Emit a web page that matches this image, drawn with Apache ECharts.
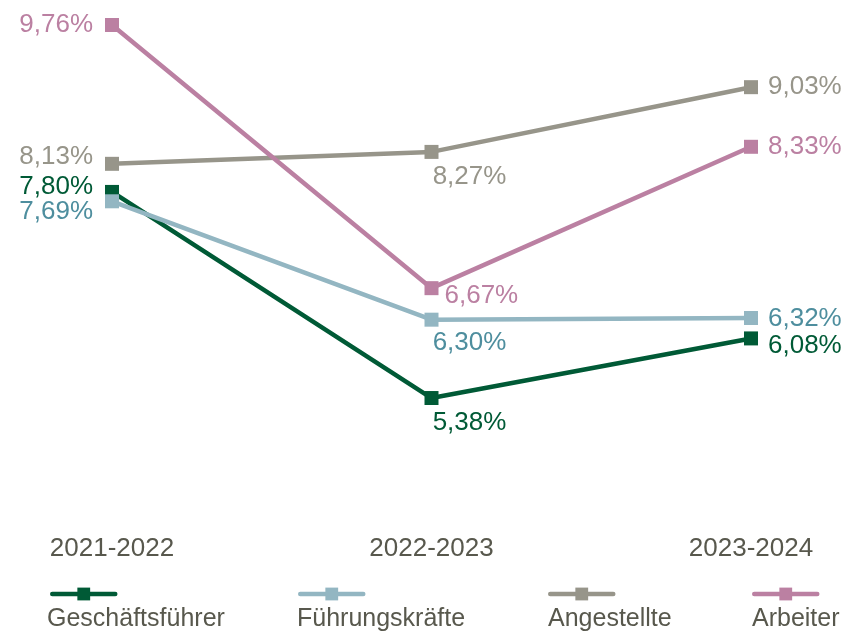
<!DOCTYPE html>
<html>
<head>
<meta charset="utf-8">
<script src="https://cdn.jsdelivr.net/npm/echarts@6/dist/echarts.min.js"></script>
<style>html,body{margin:0;padding:0;background:#fff}#c{width:847px;height:632px}</style>
</head>
<body>
<div id="c"></div>
<script>
const categories = ['2021-2022', '2022-2023', '2023-2024'];
const seriesNames = ['Geschäftsführer', 'Führungskräfte', 'Angestellte', 'Arbeiter'];
const geschaeftsfuehrer = [7.80, 5.38, 6.08];
const fuehrungskraefte = [7.69, 6.30, 6.32];
const angestellte = [8.13, 8.27, 9.03];
const arbeiter = [9.76, 6.67, 8.33];

const lineColors = ['#005a36', '#93b6c2', '#97958a', '#bb80a2'];
const labelColors = ['#005a36', '#4e8e9e', '#97958a', '#bb80a2'];
const textColor = '#58584d';
const FONT = '"Liberation Sans", Arial, sans-serif';

// label placement per point: [position, offsetX, offsetY, distance]
const labelPlacement = [
  [['left', 0, -5, 12], ['bottom', 38, 0, 5], ['right', 0, 7, 10]],
  [['left', 0, 11, 12], ['bottom', 38, 0, 3], ['right', 0, 1, 10]],
  [['left', 0, -7, 12], ['bottom', 38, 0, 5], ['right', 0, 0, 10]],
  [['left', 0, 0, 12], ['right', 0, 8, 6], ['right', 0, 0, 10]]
];

const allValues = [geschaeftsfuehrer, fuehrungskraefte, angestellte, arbeiter];

function fmt(v) { return v.toFixed(2).replace('.', ',') + '%'; }

const series = allValues.map((vals, si) => ({
  name: seriesNames[si],
  type: 'line',
  symbol: 'rect',
  symbolSize: 14,
  color: lineColors[si],
  lineStyle: { width: 4.5, color: lineColors[si] },
  itemStyle: { color: lineColors[si] },
  emphasis: { disabled: true },
  z: 2 + si,
  data: vals.map((v, i) => {
    const p = labelPlacement[si][i];
    return {
      value: v,
      label: {
        show: true,
        position: p[0],
        offset: [p[1], p[2]],
        distance: p[3],
        formatter: (d) => fmt(d.value),
        color: labelColors[si],
        fontSize: 26,
        fontFamily: FONT
      }
    };
  })
}));

const iconLefts = [50, 298, 548, 752];
const textLefts = [42, 292, 543, 747];
const legends = [];
seriesNames.forEach((n, i) => {
  legends.push({
    data: [n], left: iconLefts[i], top: 586, padding: 0,
    itemWidth: 63, itemHeight: 16, formatter: () => '',
    lineStyle: { width: 4.5, cap: 'round' },
    textStyle: { fontSize: 1 }, selectedMode: false
  });
  legends.push({
    data: [{ name: n, icon: 'none' }], left: textLefts[i], top: 607, padding: 0,
    itemWidth: 0, itemHeight: 14, selectedMode: false,
    textStyle: { fontSize: 25, color: textColor, fontFamily: FONT }
  });
});

const chart = echarts.init(document.getElementById('c'), null, { renderer: 'canvas' });
chart.setOption({
  animation: false,
  backgroundColor: '#ffffff',
  grid: { left: 112, right: 96, top: 4.56, height: 511 },
  xAxis: {
    type: 'category',
    data: categories,
    boundaryGap: false,
    axisLine: { show: false },
    axisTick: { show: false },
    axisLabel: { margin: 20, fontSize: 26, color: textColor, fontFamily: FONT }
  },
  yAxis: {
    type: 'value', min: 4, max: 10, show: false,
    splitLine: { show: false }
  },
  legend: legends,
  series: series
});
</script>
</body>
</html>
